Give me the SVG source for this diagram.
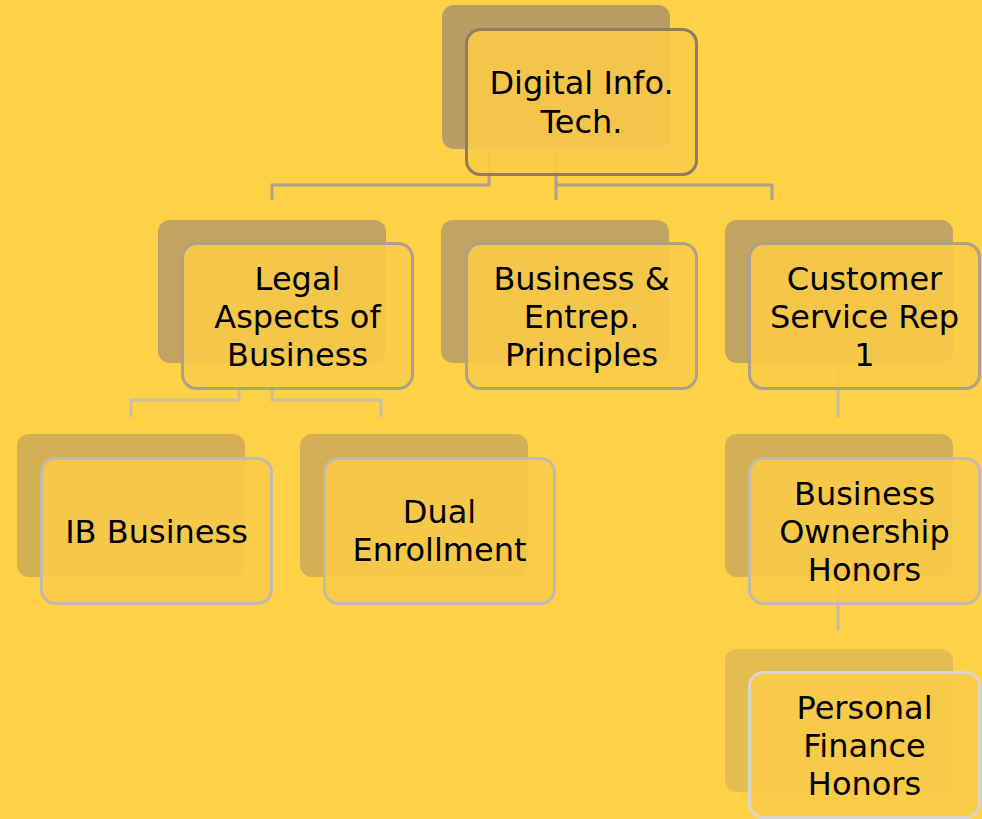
<svg xmlns="http://www.w3.org/2000/svg" width="982" height="819" viewBox="0 0 982 819">
<style>
.sh{stroke:none}
.fr{fill:#F9CB48;fill-opacity:0.9;stroke-width:3}
.t{font-family:"DejaVu Sans","Liberation Sans",sans-serif;font-size:32px;fill:#000;text-anchor:middle}
.c{fill:none;stroke-width:3}
</style>
<rect x="0" y="0" width="982" height="819" fill="#FFD147"/>
<g id="shadows">
<rect class="sh" x="442" y="5" width="228" height="144" rx="12" fill="#B89D65"/>
<rect class="sh" x="158" y="220" width="228" height="143" rx="12" fill="#C1A462"/>
<rect class="sh" x="441" y="220" width="228" height="143" rx="12" fill="#C1A462"/>
<rect class="sh" x="725" y="220" width="228" height="143" rx="12" fill="#C1A462"/>
<rect class="sh" x="17" y="434" width="228" height="143" rx="12" fill="#D3AF56"/>
<rect class="sh" x="300" y="434" width="228" height="143" rx="12" fill="#D3AF56"/>
<rect class="sh" x="725" y="434" width="228" height="143" rx="12" fill="#D3AF56"/>
<rect class="sh" x="725" y="649" width="228" height="143" rx="12" fill="#E3BC52"/>
</g>
<g id="connectors">
<path class="c" stroke="#ABA18C" d="M489,153 V185 H272 V200 M556,153 V200 M556,185 H772 V200"/>
<path class="c" stroke="#C8BFA5" d="M239,367 V400 H131 V417 M272,367 V400 H381 V417"/>
<path class="c" stroke="#C6BBA6" d="M838,368 V417 M838,583 V631"/>
</g>
<g id="n-dit">
<rect class="fr" x="466.5" y="29.5" width="230" height="145" rx="14" stroke="#8E7D5E"/>
<text class="t" x="581.5" y="94">Digital Info.</text>
<text class="t" x="581.5" y="133">Tech.</text>
</g>
<g id="n-legal">
<rect class="fr" x="182.5" y="243.5" width="230" height="145" rx="14" stroke="#ADA18B"/>
<text class="t" x="297.5" y="290">Legal</text>
<text class="t" x="297.5" y="328">Aspects of</text>
<text class="t" x="297.5" y="366">Business</text>
</g>
<g id="n-bep">
<rect class="fr" x="466.5" y="243.5" width="230" height="145" rx="14" stroke="#ADA18B"/>
<text class="t" x="581.5" y="290">Business &amp;</text>
<text class="t" x="581.5" y="328">Entrep.</text>
<text class="t" x="581.5" y="366">Principles</text>
</g>
<g id="n-csr">
<rect class="fr" x="749.5" y="243.5" width="230" height="145" rx="14" stroke="#ADA18B"/>
<text class="t" x="864.5" y="290">Customer</text>
<text class="t" x="864.5" y="328">Service Rep</text>
<text class="t" x="864.5" y="366">1</text>
</g>
<g id="n-ib">
<rect class="fr" x="41.5" y="458.5" width="230" height="145" rx="14" stroke="#C4BAA8"/>
<text class="t" x="156.5" y="543">IB Business</text>
</g>
<g id="n-dual">
<rect class="fr" x="324.5" y="458.5" width="230" height="145" rx="14" stroke="#C4BAA8"/>
<text class="t" x="439.5" y="523">Dual</text>
<text class="t" x="439.5" y="561">Enrollment</text>
</g>
<g id="n-boh">
<rect class="fr" x="749.5" y="458.5" width="230" height="145" rx="14" stroke="#C4BAA8"/>
<text class="t" x="864.5" y="505">Business</text>
<text class="t" x="864.5" y="543">Ownership</text>
<text class="t" x="864.5" y="581">Honors</text>
</g>
<g id="n-pfh">
<rect class="fr" x="749.5" y="672.5" width="230" height="145" rx="14" stroke="#DAD5CE"/>
<text class="t" x="864.5" y="719">Personal</text>
<text class="t" x="864.5" y="757">Finance</text>
<text class="t" x="864.5" y="795">Honors</text>
</g>
</svg>
